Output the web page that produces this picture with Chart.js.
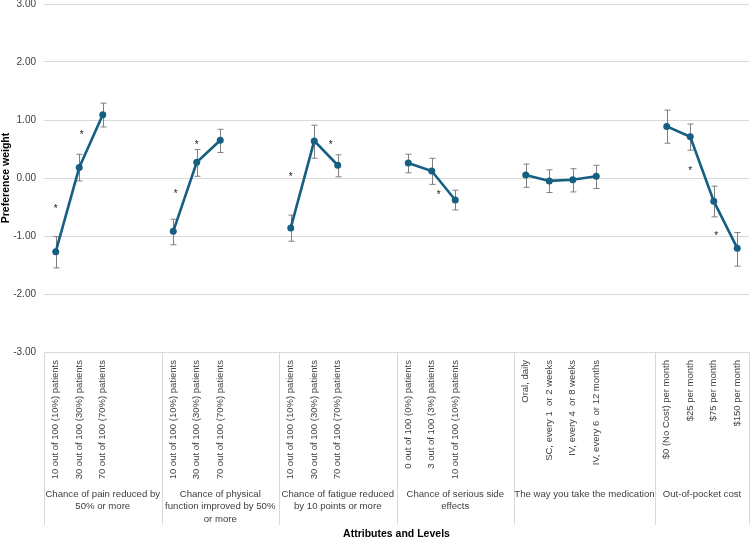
<!DOCTYPE html>
<html>
<head>
<meta charset="utf-8">
<script src="https://cdn.jsdelivr.net/npm/chart.js@4.4.0/dist/chart.umd.min.js"></script>
<style>
    html, body { margin: 0; padding: 0; background: #fff; }
    canvas { display: block; }
</style>
</head>
<body>
<canvas id="myChart" width="753" height="537"></canvas>
<script>
// level labels, '' = empty spacer column between attributes
const levels = [
    '10 out of 100 (10%) patients', '30 out of 100 (30%) patients', '70 out of 100 (70%) patients', '', '',
    '10 out of 100 (10%) patients', '30 out of 100 (30%) patients', '70 out of 100 (70%) patients', '', '',
    '10 out of 100 (10%) patients', '30 out of 100 (30%) patients', '70 out of 100 (70%) patients', '', '',
    '0 out of 100 (0%) patients', '3 out of 100 (3%) patients', '10 out of 100 (10%) patients', '', '',
    'Oral, daily', 'SC, every 1  or 2 weeks', 'IV, every 4  or 8 weeks', 'IV, every 6  or 12 months', '', '',
    '$0 (No Cost) per month', '$25 per month', '$75 per month', '$150 per month'
];

const weights = [
    -1.27, 0.18, 1.09, null, null,
    -0.92, 0.27, 0.65, null, null,
    -0.86, 0.64, 0.22, null, null,
    0.26, 0.12, -0.38, null, null,
    0.05, -0.05, -0.03, 0.03, null, null,
    0.89, 0.71, -0.40, -1.21
];
const ciLow = [
    -1.55, -0.05, 0.88, null, null,
    -1.15, 0.03, 0.44, null, null,
    -1.09, 0.34, 0.02, null, null,
    0.09, -0.11, -0.55, null, null,
    -0.16, -0.25, -0.24, -0.18, null, null,
    0.60, 0.48, -0.67, -1.52
];
const ciHigh = [
    -1.01, 0.41, 1.29, null, null,
    -0.71, 0.49, 0.84, null, null,
    -0.64, 0.91, 0.40, null, null,
    0.41, 0.34, -0.21, null, null,
    0.24, 0.14, 0.16, 0.22, null, null,
    1.17, 0.93, -0.14, -0.94
];

// attribute groups (first column index, wrapped name)
const groupStart = [0, 5, 10, 15, 20, 26];
const groupNames = [
    ['Chance of pain reduced by', '50% or more'],
    ['Chance of physical', 'function improved by 50%', 'or more'],
    ['Chance of fatigue reduced', 'by 10 points or more'],
    ['Chance of serious side', 'effects'],
    ['The way you take the medication'],
    ['Out-of-pocket cost']
];

// significance markers (column position, weight)
const starPos = [0, 1.1, 5.1, 6, 10, 11.7, 16.3, 27, 28.1];
const starY = [-0.5, 0.77, -0.25, 0.6, 0.04, 0.6, -0.26, 0.15, -0.97];

const yMin = -3, yMax = 3, yStep = 1;

const lineColor = '#156082';
const gridColor = '#d9d9d9';
const textColor = '#404040';

const extras = {
    id: 'extras',
    beforeDatasetsDraw(chart) {
        const ctx = chart.ctx, xs = chart.scales.x, ys = chart.scales.y;
        ctx.save();
        ctx.strokeStyle = '#7f7f7f';
        ctx.lineWidth = 1;
        for (let i = 0; i < weights.length; i++) {
            if (ciLow[i] === null) continue;
            const x = Math.round(xs.getPixelForValue(i)) + 0.5;
            const y1 = ys.getPixelForValue(ciLow[i]);
            const y2 = ys.getPixelForValue(ciHigh[i]);
            ctx.beginPath();
            ctx.moveTo(x, y1); ctx.lineTo(x, y2);
            ctx.moveTo(x - 3, y1); ctx.lineTo(x + 3, y1);
            ctx.moveTo(x - 3, y2); ctx.lineTo(x + 3, y2);
            ctx.stroke();
        }
        ctx.restore();
    },
    afterDraw(chart) {
        const ctx = chart.ctx, xs = chart.scales.x, ys = chart.scales.y;
        const area = chart.chartArea;
        ctx.save();
        // asterisks
        ctx.fillStyle = '#222';
        ctx.font = '10px "Liberation Sans", Arial, sans-serif';
        ctx.textAlign = 'center';
        ctx.textBaseline = 'middle';
        starPos.forEach((p, i) => {
            ctx.fillText('*', xs.getPixelForValue(p), ys.getPixelForValue(starY[i]) + 2);
        });
        // group separators
        ctx.strokeStyle = gridColor;
        ctx.lineWidth = 1;
        const bounds = groupStart.map(g => xs.getPixelForValue(g - 0.5));
        bounds.push(xs.getPixelForValue(levels.length - 0.5));
        bounds.forEach(b => {
            const x = Math.min(Math.round(b), chart.width - 1) + 0.5;
            ctx.beginPath();
            ctx.moveTo(x, area.bottom);
            ctx.lineTo(x, area.bottom + 173);
            ctx.stroke();
        });
        // group names
        ctx.fillStyle = textColor;
        ctx.font = '9.6px "Liberation Sans", Arial, sans-serif';
        ctx.textBaseline = 'middle';
        groupNames.forEach((lines, i) => {
            const cx = (bounds[i] + bounds[i + 1]) / 2;
            lines.forEach((t, k) => {
                ctx.fillText(t, cx, area.bottom + 142 + k * 12.5);
            });
        });
        ctx.restore();
    }
};

const ctx = document.getElementById('myChart').getContext('2d');
const myChart = new Chart(ctx, {
    type: 'line',
    data: {
        labels: levels,
        datasets: [{
            data: weights,
            borderColor: lineColor,
            backgroundColor: lineColor,
            borderWidth: 2.6,
            pointRadius: 3.5,
            pointBackgroundColor: lineColor,
            pointBorderWidth: 0,
            spanGaps: false,
            tension: 0
        }]
    },
    options: {
        responsive: false,
        animation: false,
        layout: { padding: { top: 3, right: -3, left: 0, bottom: 0 } },
        plugins: {
            legend: { display: false },
            tooltip: { enabled: false }
        },
        scales: {
            x: {
                offset: true,
                grid: { display: false },
                border: { display: false },
                ticks: {
                    autoSkip: false,
                    minRotation: 90,
                    maxRotation: 90,
                    padding: 0,
                    color: textColor,
                    font: { size: 9.5, family: '"Liberation Sans", Arial, sans-serif' }
                },
                title: {
                    display: true,
                    text: 'Attributes and Levels',
                    color: '#000',
                    padding: { top: 0, bottom: -3 },
                    font: { size: 10.5, weight: 'bold', family: '"Liberation Sans", Arial, sans-serif' }
                },
                afterFit(scale) {
                    scale.height = 185;
                    scale.paddingLeft = 0;
                    scale.paddingRight = -3;
                    scale.paddingTop = 0;
                }
            },
            y: {
                min: yMin,
                max: yMax,
                grid: { color: gridColor, drawTicks: false },
                border: { display: false },
                ticks: {
                    stepSize: yStep,
                    padding: 8,
                    color: textColor,
                    font: { size: 10, family: '"Liberation Sans", Arial, sans-serif' },
                    callback: v => v.toFixed(2)
                },
                title: {
                    display: true,
                    text: 'Preference weight',
                    color: '#000',
                    padding: { top: 0, bottom: 3 },
                    font: { size: 10.5, weight: 'bold', family: '"Liberation Sans", Arial, sans-serif' }
                },
                afterFit(scale) {
                    scale.width = 44;
                    scale.paddingTop = 0;
                    scale.paddingBottom = 0;
                    scale.paddingRight = 0;
                }
            }
        }
    },
    plugins: [extras]
});
</script>
</body>
</html>
